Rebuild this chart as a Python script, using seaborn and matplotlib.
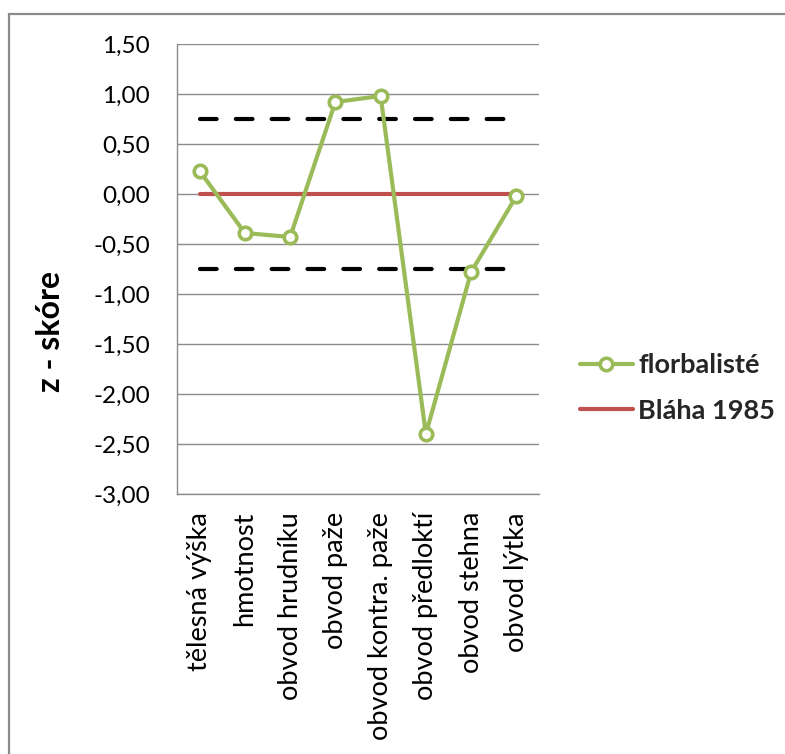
import matplotlib
matplotlib.use("Agg")
import matplotlib.pyplot as plt
from matplotlib.lines import Line2D
from matplotlib.patches import Rectangle
from matplotlib.ticker import FuncFormatter, MultipleLocator
import numpy as np
import pandas as pd
import seaborn as sns

# z-scores of body measurements, floorball players vs. reference population
categories = ["tělesná výška", "hmotnost", "obvod hrudníku", "obvod paže",
              "obvod kontra. paže", "obvod předloktí", "obvod stehna", "obvod lýtka"]
florbaliste = [0.23, -0.39, -0.43, 0.92, 0.98, -2.40, -0.78, -0.02]
blaha_1985 = [0.0, 0.0, 0.0, 0.0, 0.0, 0.0, 0.0, 0.0]
upper_band = [0.75] * 8
lower_band = [-0.75] * 8

sns.set_theme(style="white")
plt.rcParams["font.family"] = ["Lato", "DejaVu Sans"]

GREEN = "#9BBB59"
RED = "#C0504D"
GRID = "#8C8C8C"

fig = plt.figure(figsize=(7.85, 7.54), dpi=100)
ax = fig.add_axes([177 / 785, 1 - 494 / 754, 362 / 785, 450 / 754])

df = pd.DataFrame({"idx": np.arange(len(categories)), "kategorie": categories,
                   "florbaliste": florbaliste, "blaha": blaha_1985,
                   "horni": upper_band, "dolni": lower_band})

# +/- 0.75 band limits
for col in ["horni", "dolni"]:
    sns.lineplot(data=df, x="idx", y=col, ax=ax, color="black", lw=3.0,
                 dashes=False, zorder=3)
for ln in ax.lines:
    ln.set_dashes((4.0, 4.6))
    ln.set_dash_capstyle("round")

# reference population
sns.lineplot(data=df, x="idx", y="blaha", ax=ax, color=RED, lw=3.0, zorder=4)

# floorball players
sns.lineplot(data=df, x="idx", y="florbaliste", ax=ax, color=GREEN, lw=3.0,
             marker="o", markersize=9, markerfacecolor="white",
             markeredgecolor=GREEN, markeredgewidth=2.6, zorder=5)

ax.set_xlim(-0.5, len(categories) - 0.5)
ax.set_ylim(-3.0, 1.5)
ax.yaxis.set_major_locator(MultipleLocator(0.5))
ax.yaxis.set_major_formatter(FuncFormatter(lambda v, p: f"{v:.2f}".replace(".", ",")))
ax.set_xticks(df["idx"])
ax.set_xticklabels(categories, rotation=90, va="top", ha="center")
ax.tick_params(axis="both", length=0, colors="black")
ax.tick_params(axis="y", pad=19.5, labelsize=17.5)
ax.tick_params(axis="x", pad=13, labelsize=19.5)

ax.grid(axis="y", color=GRID, lw=1.0)
ax.grid(axis="x", visible=False)
for side in ["top", "right"]:
    ax.spines[side].set_visible(False)
for side in ["left", "bottom"]:
    ax.spines[side].set_color(GRID)
    ax.spines[side].set_linewidth(1.0)

ax.set_xlabel("")
ax.set_ylabel("z - skóre", fontsize=23, fontweight="bold", color="black")
ax.yaxis.set_label_coords(-0.31, 0.36)

handles = [
    Line2D([], [], color=GREEN, lw=3.0, marker="o", markersize=9,
           markerfacecolor="white", markeredgecolor=GREEN, markeredgewidth=2.6),
    Line2D([], [], color=RED, lw=3.0),
]
fig.legend(handles, ["florbalisté", "Bláha 1985"], loc="center left",
           bbox_to_anchor=(580 / 785, 1 - 388 / 754), frameon=False,
           prop={"weight": "bold", "size": 19.5},
           borderpad=0, borderaxespad=0, handlelength=1.95,
           handletextpad=0.2, labelspacing=0.8)

# outer chart frame
fig.patches.append(Rectangle((9 / 785, -0.05), 1.2, 1 - 14 / 754 + 0.05,
                             transform=fig.transFigure, fill=False,
                             edgecolor="#8A8A8A", lw=1.6))

fig.savefig("out.png", dpi=100)
